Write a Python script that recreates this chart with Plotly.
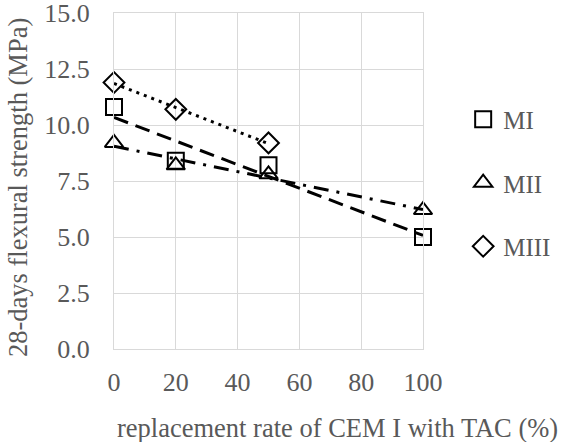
import numpy as np
import plotly.graph_objects as go

# ---- data ----
replacement = [0, 20, 50, 100]
mi_values = [10.8, 8.4, 8.2, 5.0]
mii_values = [9.2, 8.2, 7.8, 6.2]
replacement_miii = [0, 20, 50]
miii_values = [11.9, 10.7, 9.2]

x_ticks = [0, 20, 40, 60, 80, 100]
y_ticks = [0, 2.5, 5.0, 7.5, 10.0, 12.5, 15.0]
x_tick_text = ["0", "20", "40", "60", "80", "100"]
y_tick_text = ["0.0", "2.5", "5.0", "7.5", "10.0", "12.5", "15.0"]

FONT = "Liberation Serif"
TXT = "#595959"
GRID = "#d9d9d9"

W, H = 563, 442
L, R, T, B = 114, 140, 13, 93
PW, PH = W - L - R, H - T - B

fig = go.Figure()

series = [
    ("MI", replacement, mi_values, "square-open", 16, "15px,8px"),
    ("MII", replacement, mii_values, "triangle-up-open", 16, "15px,8px,3px,8px"),
    ("MIII", replacement_miii, miii_values, "diamond-open", 16, "3px,5px"),
]

# trend lines (linear least-squares fits of each series)
for name, xs, ys, sym, size, dash in series:
    k, b = np.polyfit(xs, ys, 1)
    xr = np.array([min(xs), max(xs)], dtype=float)
    fig.add_trace(go.Scatter(
        x=xr, y=k * xr + b, mode="lines", showlegend=False, hoverinfo="skip",
        line=dict(color="black", width=3, dash=dash),
    ))

for name, xs, ys, sym, size, dash in series:
    fig.add_trace(go.Scatter(
        x=xs, y=ys, mode="markers", name=name, legendgroup=name,
        marker=dict(symbol=sym, size=size, color="black",
                    line=dict(color="black", width=2)),
        cliponaxis=False,
    ))

fig.update_layout(
    template="none",
    width=W, height=H,
    margin=dict(l=L, r=R, t=T, b=B, autoexpand=False),
    paper_bgcolor="white", plot_bgcolor="white",
    font=dict(family=FONT, color=TXT, size=26),
    showlegend=True,
    legend=dict(
        x=1.13, y=((H - B) - 183) / PH, xanchor="left", yanchor="middle",
        traceorder="grouped", tracegroupgap=28,
        font=dict(family=FONT, color=TXT, size=25),
        bgcolor="rgba(0,0,0,0)", itemwidth=30,
    ),
    xaxis=dict(
        range=[0, 100], tickmode="array", tickvals=x_ticks, ticktext=x_tick_text,
        showgrid=True, gridcolor=GRID, gridwidth=1,
        zeroline=False, showline=True, linecolor=GRID, linewidth=1, mirror=True,
        ticks="outside", ticklen=10, tickcolor="rgba(0,0,0,0)",
        ticklabeloverflow="allow",
        tickfont=dict(family=FONT, color=TXT, size=26), fixedrange=True,
    ),
    yaxis=dict(
        range=[0, 15], tickmode="array", tickvals=y_ticks, ticktext=y_tick_text,
        showgrid=True, gridcolor=GRID, gridwidth=1,
        zeroline=False, showline=True, linecolor=GRID, linewidth=1, mirror=True,
        ticks="outside", ticklen=18, tickcolor="rgba(0,0,0,0)",
        ticklabeloverflow="allow",
        tickfont=dict(family=FONT, color=TXT, size=26), fixedrange=True,
    ),
    annotations=[
        dict(text="replacement rate of CEM I with TAC (%)", xref="paper", yref="paper",
             x=(337 - L) / PW, y=-(428 - (H - B)) / PH,
             xanchor="center", yanchor="middle", showarrow=False,
             font=dict(family=FONT, color=TXT, size=26.5)),
        dict(text="28-days flexural strength (MPa)", xref="paper", yref="paper",
             x=-(L - 18) / PW, y=((H - B) - 188) / PH,
             xanchor="center", yanchor="middle", textangle=-90, showarrow=False,
             font=dict(family=FONT, color=TXT, size=26.5)),
    ],
)

fig.write_html("out.html")
